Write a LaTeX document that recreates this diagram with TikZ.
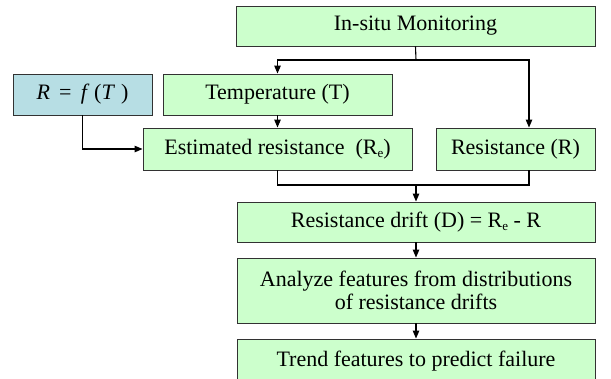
\documentclass[tikz,border=0pt]{standalone}
\usepackage{fontspec}
\setmainfont{Liberation Serif}
\usetikzlibrary{arrows.meta}
\definecolor{boxgreen}{RGB}{204,255,204}
\definecolor{boxblue}{RGB}{183,222,228}
\definecolor{boxline}{RGB}{50,50,50}
\newcommand{\subE}{\raisebox{-3.5pt}{\fontsize{13}{13}\selectfont e}}
\tikzset{
  flowbox/.style={draw=boxline, line width=0.9pt, fill=boxgreen, inner sep=0pt, align=center, font=\fontsize{22}{25}\selectfont},
  bluebox/.style={flowbox, fill=boxblue},
  conn/.style={line width=1.1pt, black},
  arr/.style={conn, -{Triangle[length=8pt,width=6.5pt]}}
}
\begin{document}
\begin{tikzpicture}[x=1pt,y=-1pt]
\useasboundingbox (0,0) rectangle (611,378);
\clip (0,0) rectangle (611,378);
\fill[white] (0,0) rectangle (611,378);
\node[flowbox, minimum width=359pt, minimum height=40pt] (mon) at (415.5,26) {In-situ Monitoring};
\node[flowbox, minimum width=229pt, minimum height=41pt] (temp) at (277.5,94.5) {Temperature (T)};
\node[bluebox, minimum width=139pt, minimum height=41pt] (rf) at (82.5,94.5) {{\itshape R}\, = \,{\itshape f}\,\,({\itshape T}\,\,)};
\node[flowbox, minimum width=269pt, minimum height=42pt] (est) at (277.5,149) {Estimated resistance \ (R\subE)};
\node[flowbox, minimum width=159pt, minimum height=42pt] (res) at (515.5,149) {Resistance (R)};
\node[flowbox, minimum width=358pt, minimum height=40pt] (drift) at (416,222) {Resistance drift (D) = R\subE\ - R};
\node[flowbox, minimum width=358pt, minimum height=65pt] (ana) at (416,290.5) {Analyze features from distributions\\[-2pt]of resistance drifts};
\node[flowbox, minimum width=358pt, minimum height=44pt] (trend) at (416,361) {Trend features to predict failure};
\coordinate (j1) at (416,60);
\coordinate (j2) at (416,185);
\draw[conn] (mon.south) -- (j1);
\draw[arr] (j1) -| (temp.north);
\draw[arr] (j1) -| ([xshift=13.5pt]res.north);
\draw[arr] (temp.south) -- (est.north);
\draw[arr] (rf.south) |- (est.west);
\draw[conn] (est.south) |- (j2) -| ([xshift=13.5pt]res.south);
\draw[arr] (j2) -- (drift.north);
\draw[arr] (drift.south) -- (ana.north);
\draw[arr] (ana.south) -- (trend.north);
\end{tikzpicture}
\end{document}
